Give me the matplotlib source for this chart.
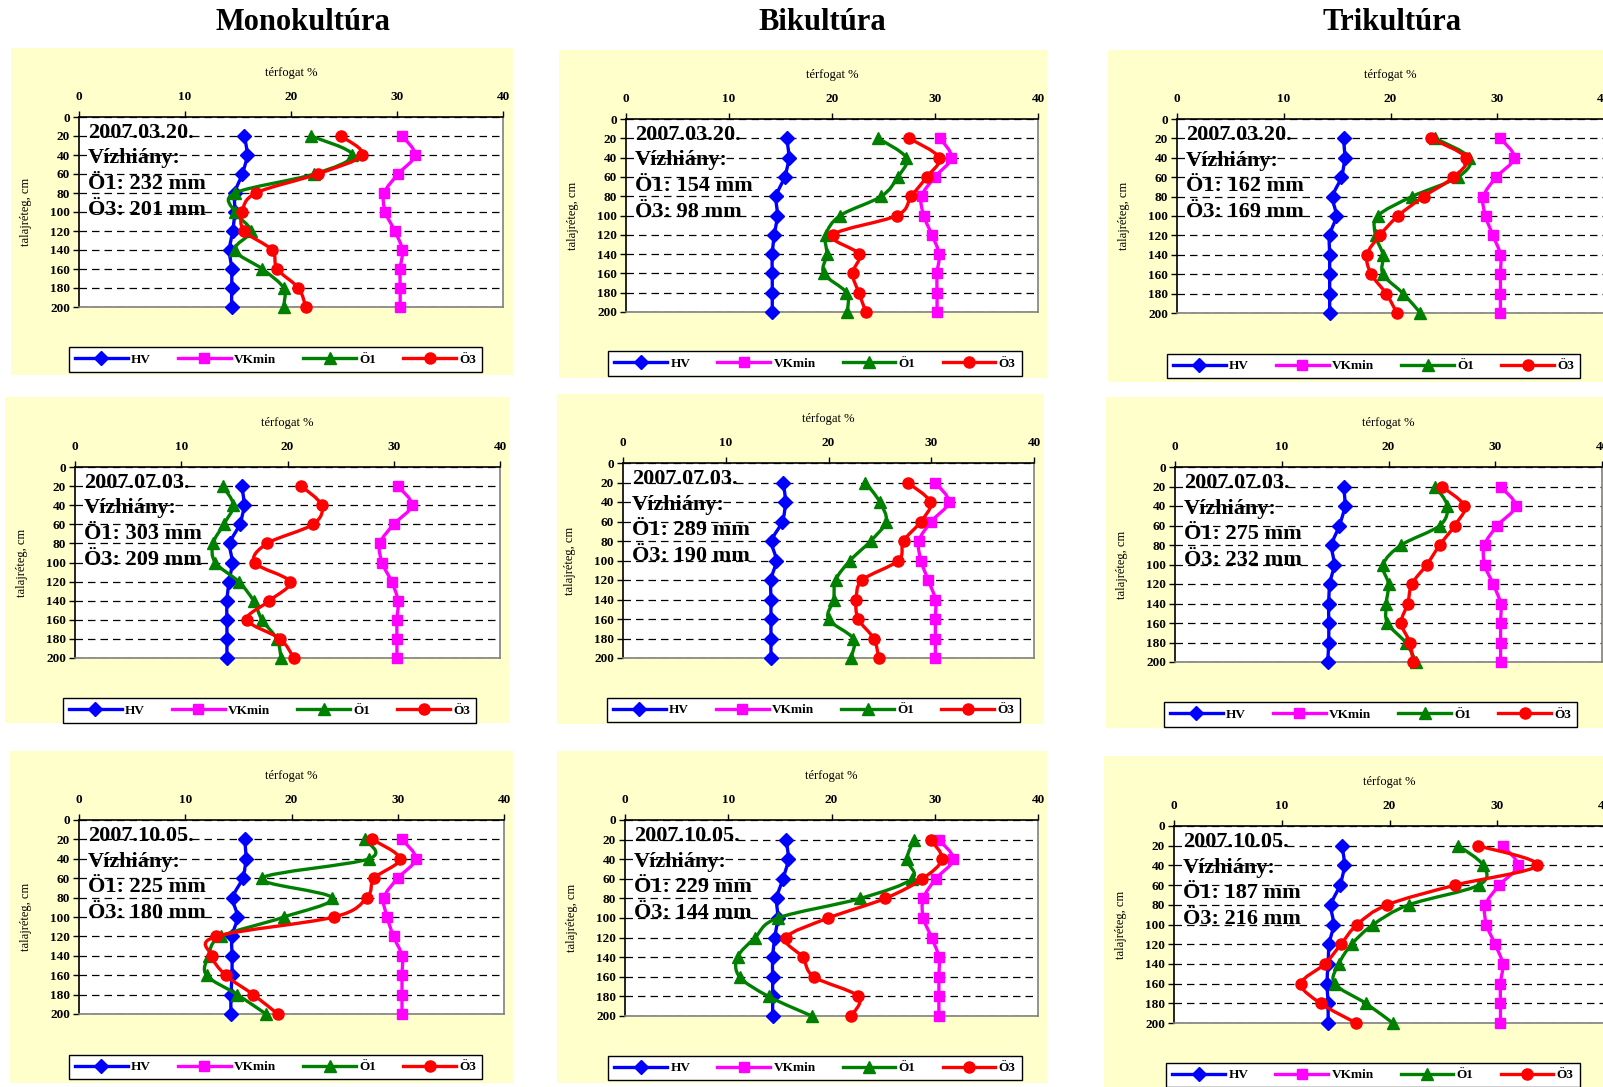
import matplotlib.pyplot as plt
from matplotlib.path import Path
from matplotlib.patches import PathPatch, Rectangle
from matplotlib.lines import Line2D

plt.rcParams['font.family'] = ['Liberation Serif', 'DejaVu Serif']
plt.rcParams['font.weight'] = 'bold'

# --- adatok ---
depth = [20, 40, 60, 80, 100, 120, 140, 160, 180, 200]
series_labels = ['HV', 'VKmin', 'Ö1', 'Ö3']
cultures = ['Monokultúra', 'Bikultúra', 'Trikultúra']
dates = ['2007.03.20.', '2007.07.03.', '2007.10.05.']
deficit_o1 = [[232, 154, 162], [303, 289, 275], [225, 229, 187]]
deficit_o3 = [[201, 98, 169], [209, 190, 232], [180, 144, 216]]

# 2007.03.20.
mono_mar_hv = [15.6, 15.85, 15.4, 14.7, 14.7, 14.5, 14.2, 14.4, 14.4, 14.4]
mono_mar_vk = [30.5, 31.7, 30.1, 28.8, 28.9, 29.8, 30.5, 30.3, 30.3, 30.3]
mono_mar_o1 = [21.9, 25.8, 22.2, 14.7, 14.7, 16.2, 14.7, 17.3, 19.3, 19.3]
mono_mar_o3 = [24.7, 26.7, 22.5, 16.7, 15.4, 15.6, 18.2, 18.7, 20.7, 21.4]

bi_mar_hv = [15.6, 15.8, 15.4, 14.6, 14.7, 14.4, 14.2, 14.2, 14.2, 14.2]
bi_mar_vk = [30.5, 31.6, 30.0, 28.7, 28.9, 29.7, 30.4, 30.2, 30.2, 30.2]
bi_mar_o1 = [24.5, 27.2, 26.4, 24.8, 20.8, 19.4, 19.5, 19.2, 21.4, 21.5]
bi_mar_o3 = [27.5, 30.4, 29.2, 27.7, 26.3, 20.1, 22.6, 22.0, 22.6, 23.3]

tri_mar_hv = [15.6, 15.7, 15.4, 14.6, 14.9, 14.3, 14.3, 14.3, 14.3, 14.3]
tri_mar_vk = [30.3, 31.6, 29.9, 28.7, 28.9, 29.6, 30.3, 30.3, 30.3, 30.3]
tri_mar_o1 = [24.2, 27.4, 26.3, 22.0, 18.8, 18.6, 19.3, 19.3, 21.2, 22.8]
tri_mar_o3 = [23.8, 27.1, 25.9, 23.1, 20.7, 19.0, 17.8, 18.2, 19.6, 20.6]

# 2007.07.03.
mono_jul_hv = [15.7, 15.9, 15.5, 14.6, 14.8, 14.5, 14.3, 14.3, 14.3, 14.3]
mono_jul_vk = [30.4, 31.7, 30.0, 28.7, 28.9, 29.8, 30.4, 30.3, 30.3, 30.3]
mono_jul_o1 = [13.9, 14.9, 14.0, 13.0, 13.2, 15.4, 16.8, 17.6, 19.0, 19.4]
mono_jul_o3 = [21.3, 23.2, 22.4, 18.1, 16.9, 20.2, 18.3, 16.2, 19.3, 20.6]

bi_jul_hv = [15.6, 15.8, 15.5, 14.5, 14.9, 14.4, 14.4, 14.4, 14.4, 14.4]
bi_jul_vk = [30.4, 31.7, 30.0, 28.8, 29.0, 29.7, 30.4, 30.4, 30.4, 30.4]
bi_jul_o1 = [23.6, 25.0, 25.6, 24.1, 22.1, 20.7, 20.5, 20.0, 22.4, 22.2]
bi_jul_o3 = [27.7, 29.9, 29.0, 27.3, 26.8, 23.3, 22.7, 22.9, 24.4, 24.9]

tri_jul_hv = [15.8, 15.9, 15.4, 14.7, 14.9, 14.5, 14.4, 14.4, 14.4, 14.3]
tri_jul_vk = [30.5, 31.9, 30.2, 29.0, 29.0, 29.8, 30.5, 30.5, 30.5, 30.5]
tri_jul_o1 = [24.4, 25.5, 24.8, 21.2, 19.5, 20.0, 19.8, 19.9, 21.6, 22.6]
tri_jul_o3 = [25.0, 27.1, 26.2, 24.8, 23.6, 22.2, 21.8, 21.2, 22.0, 22.3]

# 2007.10.05.
mono_oct_hv = [15.6, 15.7, 15.4, 14.5, 14.9, 14.4, 14.4, 14.4, 14.3, 14.3]
mono_oct_vk = [30.4, 31.7, 30.0, 28.7, 29.0, 29.6, 30.4, 30.4, 30.4, 30.4]
mono_oct_o1 = [26.9, 27.3, 17.2, 23.8, 19.3, 13.4, 12.2, 12.0, 14.9, 17.6]
mono_oct_o3 = [27.6, 30.2, 27.8, 27.1, 24.0, 12.9, 12.5, 13.8, 16.4, 18.7]

bi_oct_hv = [15.6, 15.8, 15.3, 14.7, 14.8, 14.5, 14.3, 14.3, 14.3, 14.3]
bi_oct_vk = [30.4, 31.8, 30.1, 28.9, 28.9, 29.7, 30.4, 30.4, 30.4, 30.4]
bi_oct_o1 = [28.0, 27.3, 27.8, 22.8, 14.8, 12.6, 10.9, 11.1, 13.9, 18.1]
bi_oct_o3 = [29.6, 30.7, 28.8, 25.2, 19.7, 15.6, 17.2, 18.3, 22.6, 21.9]

tri_oct_hv = [15.6, 15.8, 15.4, 14.6, 14.8, 14.4, 14.3, 14.2, 14.3, 14.3]
tri_oct_vk = [30.5, 31.9, 30.2, 28.9, 29.0, 29.8, 30.5, 30.3, 30.3, 30.3]
tri_oct_o1 = [26.4, 28.7, 28.3, 21.8, 18.5, 16.5, 15.3, 14.9, 17.8, 20.3]
tri_oct_o3 = [28.2, 33.7, 26.1, 19.8, 17.0, 15.5, 14.0, 11.8, 13.6, 16.9]

panel_data = [
    [[mono_mar_hv, mono_mar_vk, mono_mar_o1, mono_mar_o3],
     [bi_mar_hv, bi_mar_vk, bi_mar_o1, bi_mar_o3],
     [tri_mar_hv, tri_mar_vk, tri_mar_o1, tri_mar_o3]],
    [[mono_jul_hv, mono_jul_vk, mono_jul_o1, mono_jul_o3],
     [bi_jul_hv, bi_jul_vk, bi_jul_o1, bi_jul_o3],
     [tri_jul_hv, tri_jul_vk, tri_jul_o1, tri_jul_o3]],
    [[mono_oct_hv, mono_oct_vk, mono_oct_o1, mono_oct_o3],
     [bi_oct_hv, bi_oct_vk, bi_oct_o1, bi_oct_o3],
     [tri_oct_hv, tri_oct_vk, tri_oct_o1, tri_oct_o3]],
]

# --- stílus ---
colors = ['#0000FF', '#FF00FF', '#008000', '#FF0000']
markers = ['D', 's', '^', 'o']
msizes = [7.5, 7.5, 8.5, 8]
line_w = 2.4
bg_color = '#FFFFCC'

W, H = 1603, 1087

# pixel boxok: háttér, rajzterület, jelmagyarázat (x0, y0, x1, y1)
bg_boxes = [
    [(11, 48, 513, 375), (559, 50, 1047, 378), (1108, 50, 1620, 382)],
    [(5, 397, 509, 723), (557, 394, 1043, 724), (1106, 397, 1620, 728)],
    [(10, 751, 513, 1083), (557, 751, 1047, 1083), (1104, 756, 1620, 1100)],
]
plot_boxes = [
    [(79, 117, 503, 307), (626, 119, 1038, 312), (1177, 119, 1604, 313)],
    [(75, 467, 500, 658), (623, 463, 1034, 658), (1175, 467, 1602, 662)],
    [(79, 820, 504, 1014), (625, 820, 1038, 1016), (1174, 826, 1605, 1023)],
]
legend_boxes = [
    [(69, 346, 482, 373), (616, 350, 1014, 377), (1168, 352, 1579, 380)],
    [(63, 697, 476, 724), (615, 696, 1012, 724), (1164, 701, 1577, 728)],
    [(70, 1053, 481, 1081), (616, 1054, 1014, 1082), (1167, 1061, 1579, 1089)],
]
title_x = [303, 822, 1392]


def fig_box(x0, y0, x1, y1):
    return [x0 / W, 1 - y1 / H, (x1 - x0) / W, (y1 - y0) / H]


def smooth_path(xs, ys):
    # Excel-szerű simított vonal (Catmull-Rom -> Bezier)
    pts = list(zip(xs, ys))
    n = len(pts)
    verts = [pts[0]]
    codes = [Path.MOVETO]
    for i in range(n - 1):
        p0 = pts[max(i - 1, 0)]
        p1 = pts[i]
        p2 = pts[i + 1]
        p3 = pts[min(i + 2, n - 1)]
        c1 = (p1[0] + (p2[0] - p0[0]) / 6, p1[1] + (p2[1] - p0[1]) / 6)
        c2 = (p2[0] - (p3[0] - p1[0]) / 6, p2[1] - (p3[1] - p1[1]) / 6)
        verts += [c1, c2, p2]
        codes += [Path.CURVE4] * 3
    return Path(verts, codes)


fig = plt.figure(figsize=(W / 100, H / 100), dpi=100)

for ci, name in enumerate(cultures):
    fig.text(title_x[ci] / W, 1 - 22 / H, name, ha='center', va='center', fontsize=22)

handles = [Line2D([], [], color=c, lw=line_w, marker=m, ms=s)
           for c, m, s in zip(colors, markers, msizes)]

for ri in range(3):
    for ci in range(3):
        bx = bg_boxes[ri][ci]
        fig.add_artist(Rectangle((bx[0] / W, 1 - bx[3] / H), (bx[2] - bx[0]) / W,
                                 (bx[3] - bx[1]) / H, transform=fig.transFigure,
                                 facecolor=bg_color, edgecolor='none', zorder=-5))

        ax = fig.add_axes(fig_box(*plot_boxes[ri][ci]))
        ax.set_facecolor('white')
        ax.set_xlim(0, 40)
        ax.set_ylim(200, 0)
        ax.xaxis.tick_top()
        ax.xaxis.set_label_position('top')
        ax.set_xticks(range(0, 41, 10))
        ax.set_yticks(range(0, 201, 20))
        ax.tick_params(axis='x', direction='out', length=4, width=1, labelsize=9.5, pad=6)
        ax.tick_params(axis='y', direction='out', length=4, width=1, labelsize=9.5, pad=2.5)
        ax.set_xlabel('térfogat %', fontsize=9, labelpad=11)
        ax.set_ylabel('talajréteg, cm', fontsize=9, labelpad=13)
        for side in ['top', 'left']:
            ax.spines[side].set_color('black')
            ax.spines[side].set_linewidth(1.2)
        for side in ['right', 'bottom']:
            ax.spines[side].set_color('#808080')
            ax.spines[side].set_linewidth(1.2)
        ax.grid(axis='y', color='black', linestyle=(0, (6, 4)), linewidth=0.9)
        ax.set_axisbelow(True)

        for vals, c, m, s in zip(panel_data[ri][ci], colors, markers, msizes):
            ax.add_patch(PathPatch(smooth_path(vals, depth), facecolor='none',
                                   edgecolor=c, lw=line_w, clip_on=False, zorder=3))
            ax.plot(vals, depth, linestyle='none', marker=m, ms=s, color=c,
                    clip_on=False, zorder=3)

        note = (f"{dates[ri]}\nVízhiány:\nÖ1: {deficit_o1[ri][ci]} mm\n"
                f"Ö3: {deficit_o3[ri][ci]} mm")
        ax.text(0.021, 0.97, note, transform=ax.transAxes, ha='left', va='top',
                fontsize=16, linespacing=1.38, zorder=5)

        lb = legend_boxes[ri][ci]
        leg = ax.legend(handles, series_labels, ncol=4, loc='center',
                        bbox_to_anchor=((lb[0] + lb[2]) / 2 / W, 1 - (lb[1] + lb[3]) / 2 / H),
                        bbox_transform=fig.transFigure, frameon=True, fancybox=False,
                        edgecolor='black', framealpha=1, fontsize=9.5, handlelength=4,
                        handletextpad=0.25, columnspacing=2.05, borderpad=0.45,
                        numpoints=1)
        leg.get_frame().set_linewidth(1.0)

fig.savefig('out.png', dpi=100)
